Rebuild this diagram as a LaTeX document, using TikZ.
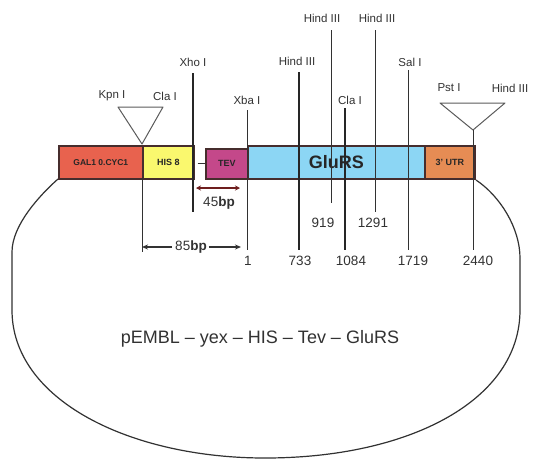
\documentclass[tikz,border=0pt]{standalone}
\usepackage{fontspec}
\setmainfont{Liberation Sans}
\usetikzlibrary{arrows.meta}
\definecolor{galred}{RGB}{232,98,78}
\definecolor{hisyel}{RGB}{250,248,110}
\definecolor{tevmag}{RGB}{196,72,138}
\definecolor{glublue}{RGB}{140,214,244}
\definecolor{utrorg}{RGB}{230,140,84}
\definecolor{edge}{RGB}{70,45,45}
\definecolor{ink}{RGB}{50,50,50}
\definecolor{arrred}{RGB}{110,30,30}
\tikzset{
  genebox/.style={draw=edge, line width=1.6pt, inner sep=0pt, anchor=north west, text=black!85},
  smalltag/.style={font=\bfseries\fontsize{9}{10}\selectfont},
  sitelab/.style={inner sep=0pt, text=ink, font=\fontsize{11.5}{13}\selectfont},
  numlab/.style={inner sep=0pt, text=ink, font=\fontsize{13.5}{15}\selectfont},
  thin site/.style={draw=ink, line width=1pt},
  thick site/.style={draw=black!85, line width=2.4pt},
  loopline/.style={draw=ink, line width=1.2pt},
  trisite/.style={draw=ink!80, line width=1pt, line join=round}
}
\begin{document}
\begin{tikzpicture}[x=1pt,y=-1pt]
\useasboundingbox (0,0) rectangle (544,459);
\fill[white] (0,0) rectangle (544,459);

% loop (vector backbone)
\draw[loopline] (58,179) .. controls (40,195) and (12,225) .. (12,252) -- (12,310)
  .. controls (12,400) and (130,458) .. (265,458)
  .. controls (410,458) and (520,400) .. (520,310) -- (520,258)
  .. controls (520,228) and (500,196) .. (476,180);

% gene boxes
\node[genebox, fill=galred, minimum width=84pt, minimum height=33pt, smalltag,
  font=\bfseries\fontsize{8.5}{9}\selectfont] (gal) at (58,145) {GAL1 0.CYC1};
\node[genebox, fill=hisyel, minimum width=51pt, minimum height=33pt, smalltag] (his) at (142,145) {HIS 8};
\node[genebox, fill=tevmag, minimum width=42pt, minimum height=30pt, smalltag] (tev) at (205,148) {TEV};
\node[genebox, fill=glublue, minimum width=177pt, minimum height=33pt,
  font=\bfseries\fontsize{18}{20}\selectfont] (glu) at (247,145) {GluRS};
\node[genebox, fill=utrorg, minimum width=50pt, minimum height=33pt, smalltag] (utr) at (424,145) {3' UTR};
\draw[draw=ink, line width=1pt] (his.east |- 0,163) ++(3,0) -- (tev.west |- 0,163);

% coordinates of sites
\coordinate (xhoT) at (193,73);   \coordinate (xhoB) at (193,212);
\coordinate (xbaT) at (247,110);  \coordinate (xbaB) at (247,250);
\coordinate (h733T) at (299,72);  \coordinate (h733B) at (299,250);
\coordinate (h919T) at (331,30);  \coordinate (h919B) at (331,203);
\coordinate (c1084T) at (345,108);\coordinate (c1084B) at (345,250);
\coordinate (h1291T) at (375,30); \coordinate (h1291B) at (375,212);
\coordinate (salT) at (408,70);   \coordinate (salB) at (408,250);
\coordinate (kpnA) at (142,144);  \coordinate (kpnL) at (118,107); \coordinate (kpnR) at (163,107);
\coordinate (pstA) at (473,130);  \coordinate (pstL) at (440,103); \coordinate (pstR) at (505,103);
\coordinate (p2440B) at (473,250);
\coordinate (hisT) at (142,178);  \coordinate (hisB) at (142,252);

% site lines
\draw[thick site] (xhoT) -- (xhoB);
\draw[thin site] (xbaT) -- (xbaB);
\draw[thick site] (h733T) -- (h733B);
\draw[thin site] (h919T) -- (h919B);
\draw[thick site] (c1084T) -- (c1084B);
\draw[thin site] (h1291T) -- (h1291B);
\draw[thin site] (salT) -- (salB);
\draw[thin site] (hisT) -- (hisB);
\draw[trisite] (kpnL) -- (kpnR) -- (kpnA) -- cycle;
\draw[trisite] (pstL) -- (pstR) -- (pstA) -- cycle;
\draw[thin site] (pstA) -- (p2440B);

% site labels
\node[sitelab] (lkpn) at (112,96) {Kpn I};
\node[sitelab] (lcla1) at (165,96) {Cla I};
\node[sitelab] (lxho) at (193,62) {Xho I};
\node[sitelab] (lxba) at (247,100) {Xba I};
\node[sitelab] (lh733) at (297,61) {Hind III};
\node[sitelab] (lh919) at (322,18) {Hind III};
\node[sitelab] (lh1291) at (377,18) {Hind III};
\node[sitelab] (lcla2) at (350,100) {Cla I};
\node[sitelab] (lsal) at (410,62) {Sal I};
\node[sitelab] (lpst) at (449,88) {Pst I};
\node[sitelab] (lh2440) at (510,88) {Hind III};

% numbers
\node[numlab] (n1) at (248,261) {1};
\node[numlab] (n733) at (300,261) {733};
\node[numlab] (n919) at (323,223) {919};
\node[numlab] (n1084) at (351,261) {1084};
\node[numlab] (n1291) at (373,223) {1291};
\node[numlab] (n1719) at (413,261) {1719};
\node[numlab] (n2440) at (478,261) {2440};

% bp distances
\coordinate (a45L) at (196,188); \coordinate (a45R) at (240,188);
\draw[draw=arrred, line width=1.8pt, {Stealth[length=5pt,width=5pt]}-{Stealth[length=5pt,width=5pt]}] (a45L) -- (a45R);
\node[numlab] (bp45) at (219,203) {45\textbf{bp}};
\node[numlab] (bp85) at (191,247) {85\textbf{bp}};
\coordinate (a85L) at (142,247); \coordinate (a85R) at (241,247);
\draw[draw=ink, line width=1.5pt, -{Stealth[length=6pt,width=5pt]}] (bp85.west) ++(-3,0) -- (a85L);
\draw[draw=ink, line width=1.5pt, -{Stealth[length=6pt,width=5pt]}] (bp85.east) ++(2,0) -- (a85R);

% title
\node[inner sep=0pt, text=ink, font=\fontsize{18}{20}\selectfont] (title) at (260,339)
  {pEMBL -- yex -- HIS -- Tev -- GluRS};
\end{tikzpicture}
\end{document}
